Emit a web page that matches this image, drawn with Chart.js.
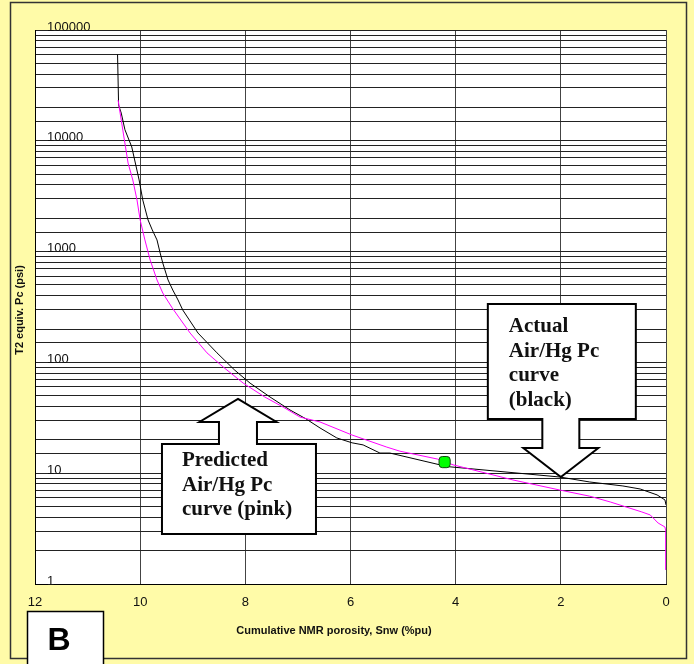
<!DOCTYPE html>
<html>
<head>
<meta charset="utf-8">
<script src="https://cdn.jsdelivr.net/npm/chart.js@4/dist/chart.umd.min.js"></script>
<style>
  html, body { margin: 0; padding: 0; background: #fff; }
  #wrap { width: 694px; height: 664px; }
</style>
</head>
<body>
<div id="wrap"><canvas id="grafico"></canvas></div>
<script>
// Curva de Pc: real (preta) x prevista (rosa)

// actual Air/Hg Pc curve (black)
const actualX = [10.43, 10.41, 10.36, 10.29, 10.16, 10.02, 9.95, 9.85, 9.77, 9.68, 9.62, 9.57, 9.47, 9.38, 9.28, 9.19, 8.90, 8.54, 8.20, 7.91, 7.53, 7.15, 6.85, 6.58, 6.26, 5.97, 5.76, 5.44, 5.25, 4.30, 4.18, 2.02, 1.45, 0.82, 0.49, 0.17, 0.02, 0.0];
const actualY = [60000, 21000, 17800, 12600, 8800, 4430, 2920, 1930, 1570, 1274, 971, 789, 555, 450, 366, 297, 184, 122, 85, 65, 48.7, 37.2, 31, 25.6, 20.8, 18.8, 18.0, 15.2, 15.2, 11.9, 11.5, 9.24, 8.33, 7.67, 7.2, 6.37, 5.74, 5.17];

// predicted Air/Hg Pc curve (pink)
const predX = [10.42, 10.33, 10.23, 10.14, 10.06, 10.0, 9.91, 9.81, 9.68, 9.57, 9.39, 9.05, 8.73, 8.42, 8.04, 7.63, 7.28, 6.96, 6.58, 5.97, 5.31, 5.06, 4.34, 4.05, 2.91, 2.02, 1.45, 1.06, 0.46, 0.30, 0.15, 0.02, 0.0, 0.0, 0.0];
const predY = [23300, 12500, 6300, 4430, 2920, 1930, 1274, 840, 555, 423, 310, 184, 122, 90.8, 65, 48.7, 39.5, 32.1, 29.0, 22.1, 17.2, 15.8, 13.4, 11.9, 8.69, 7.05, 6.2, 5.5, 4.47, 4.2, 3.55, 3.27, 2.94, 2.16, 1.34];

// green marker
const markX = [4.21];
const markY = [12.6];

// arrow tips of the two callouts (data coords)
const tipX = [8.14, 2.0];
const tipY = [46.8, 9.25];
const calloutText = [
  ["Predicted", "Air/Hg Pc", "curve (pink)"],
  ["Actual", "Air/Hg Pc", "curve", "(black)"]
];

const xTitle = "Cumulative NMR porosity, Snw (%pu)";
const yTitle = "T2 equiv. Pc (psi)";

function pts(xs, ys) {
  return xs.map((x, i) => ({ x: x, y: ys[i] }));
}

const sans = "'Liberation Sans', Arial, sans-serif";

const decor = {
  id: 'decor',
  beforeDraw(chart) {
    const ctx = chart.ctx;
    const a = chart.chartArea;
    ctx.save();
    ctx.fillStyle = '#fffba8';
    ctx.fillRect(0, 0, chart.width, chart.height);
    ctx.strokeStyle = '#333';
    ctx.lineWidth = 1.5;
    ctx.strokeRect(10.5, 2.5, 676, 656);
    ctx.fillStyle = '#fff';
    ctx.fillRect(a.left, a.top, a.right - a.left, a.bottom - a.top);
    ctx.restore();
  },
  afterDraw(chart) {
    const ctx = chart.ctx;
    const xs = chart.scales.x, ys = chart.scales.y;
    ctx.save();

    // callouts
    for (let i = 0; i < tipX.length; i++) {
      const tx = xs.getPixelForValue(tipX[i]);
      const ty = ys.getPixelForValue(tipY[i]);
      ctx.beginPath();
      if (i === 0) {
        // up arrow, box below
        const hb = ty + 23, bt = ty + 45, bb = ty + 135, bl = tx - 76, br = tx + 78;
        ctx.moveTo(tx, ty);
        ctx.lineTo(tx + 38.5, hb);
        ctx.lineTo(tx + 19, hb);
        ctx.lineTo(tx + 19, bt);
        ctx.lineTo(br, bt);
        ctx.lineTo(br, bb);
        ctx.lineTo(bl, bb);
        ctx.lineTo(bl, bt);
        ctx.lineTo(tx - 19, bt);
        ctx.lineTo(tx - 19, hb);
        ctx.lineTo(tx - 38.5, hb);
      } else {
        // down arrow, box above
        const hb = ty - 29, bb = ty - 58, bt = ty - 173, bl = tx - 73, br = tx + 75;
        ctx.moveTo(tx, ty);
        ctx.lineTo(tx + 37.5, hb);
        ctx.lineTo(tx + 18.5, hb);
        ctx.lineTo(tx + 18.5, bb);
        ctx.lineTo(br, bb);
        ctx.lineTo(br, bt);
        ctx.lineTo(bl, bt);
        ctx.lineTo(bl, bb);
        ctx.lineTo(tx - 18.5, bb);
        ctx.lineTo(tx - 18.5, hb);
        ctx.lineTo(tx - 37.5, hb);
      }
      ctx.closePath();
      ctx.fillStyle = '#fff';
      ctx.fill();
      ctx.strokeStyle = '#000';
      ctx.lineWidth = 2;
      ctx.stroke();

      ctx.fillStyle = '#111';
      ctx.font = "bold 21px 'Liberation Serif', 'Times New Roman', serif";
      ctx.textAlign = 'left';
      ctx.textBaseline = 'middle';
      const lines = calloutText[i];
      const lx = i === 0 ? tx - 56 : tx - 52;
      const ly = i === 0 ? ty + 62 : ty - 150;
      lines.forEach((t, k) => ctx.fillText(t, lx, ly + k * 24.5));
    }

    // axis titles
    ctx.fillStyle = '#111';
    ctx.font = 'bold 11px ' + sans;
    ctx.textAlign = 'center';
    ctx.textBaseline = 'middle';
    ctx.fillText(xTitle, 334, 631);
    ctx.save();
    ctx.translate(20, 310);
    ctx.rotate(-Math.PI / 2);
    ctx.fillText(yTitle, 0, 0);
    ctx.restore();

    // panel label
    ctx.fillStyle = '#fff';
    ctx.fillRect(27, 611, 77, 60);
    ctx.strokeStyle = '#000';
    ctx.lineWidth = 1.5;
    ctx.strokeRect(27.5, 611.5, 76, 60);
    ctx.fillStyle = '#000';
    ctx.font = 'bold 32px ' + sans;
    ctx.fillText('B', 59, 641);

    ctx.restore();
  }
};

new Chart(document.getElementById('grafico'), {
  type: 'scatter',
  data: {
    datasets: [
      {
        label: 'Actual',
        data: pts(actualX, actualY),
        showLine: true,
        borderColor: '#000',
        borderWidth: 1,
        pointRadius: 0,
        tension: 0,
        order: 3
      },
      {
        label: 'Predicted',
        data: pts(predX, predY),
        showLine: true,
        borderColor: '#ff00ff',
        borderWidth: 1,
        pointRadius: 0,
        tension: 0,
        order: 2
      },
      {
        label: 'Point',
        data: pts(markX, markY),
        pointStyle: 'rectRounded',
        pointRadius: 6.5,
        backgroundColor: '#00ff00',
        borderColor: '#114411',
        borderWidth: 1,
        order: 1
      }
    ]
  },
  options: {
    responsive: true,
    maintainAspectRatio: false,
    animation: false,
    layout: { padding: { left: 0, top: 30, right: 28, bottom: 0 } },
    plugins: {
      legend: { display: false },
      tooltip: { enabled: false }
    },
    scales: {
      x: {
        type: 'linear',
        min: 0,
        max: 12,
        reverse: true,
        afterFit: (s) => { s.height = 80; },
        border: { color: '#000', width: 1 },
        grid: { color: '#444', lineWidth: 1, drawTicks: false },
        ticks: {
          stepSize: 2,
          padding: 11,
          color: '#111',
          font: { family: sans, size: 13 }
        }
      },
      y: {
        type: 'logarithmic',
        min: 1,
        max: 100000,
        afterFit: (s) => { s.width = 35; },
        border: { color: '#000', width: 1 },
        grid: { color: '#222', lineWidth: 1, drawTicks: false },
        ticks: {
          autoSkip: false,
          mirror: true,
          padding: 12,
          labelOffset: -3,
          color: '#111',
          font: { family: sans, size: 13 },
          callback: (v) => {
            const l = Math.log10(v);
            return Math.abs(l - Math.round(l)) < 1e-9 ? String(v) : '';
          }
        }
      }
    }
  },
  plugins: [decor]
});
</script>
</body>
</html>
